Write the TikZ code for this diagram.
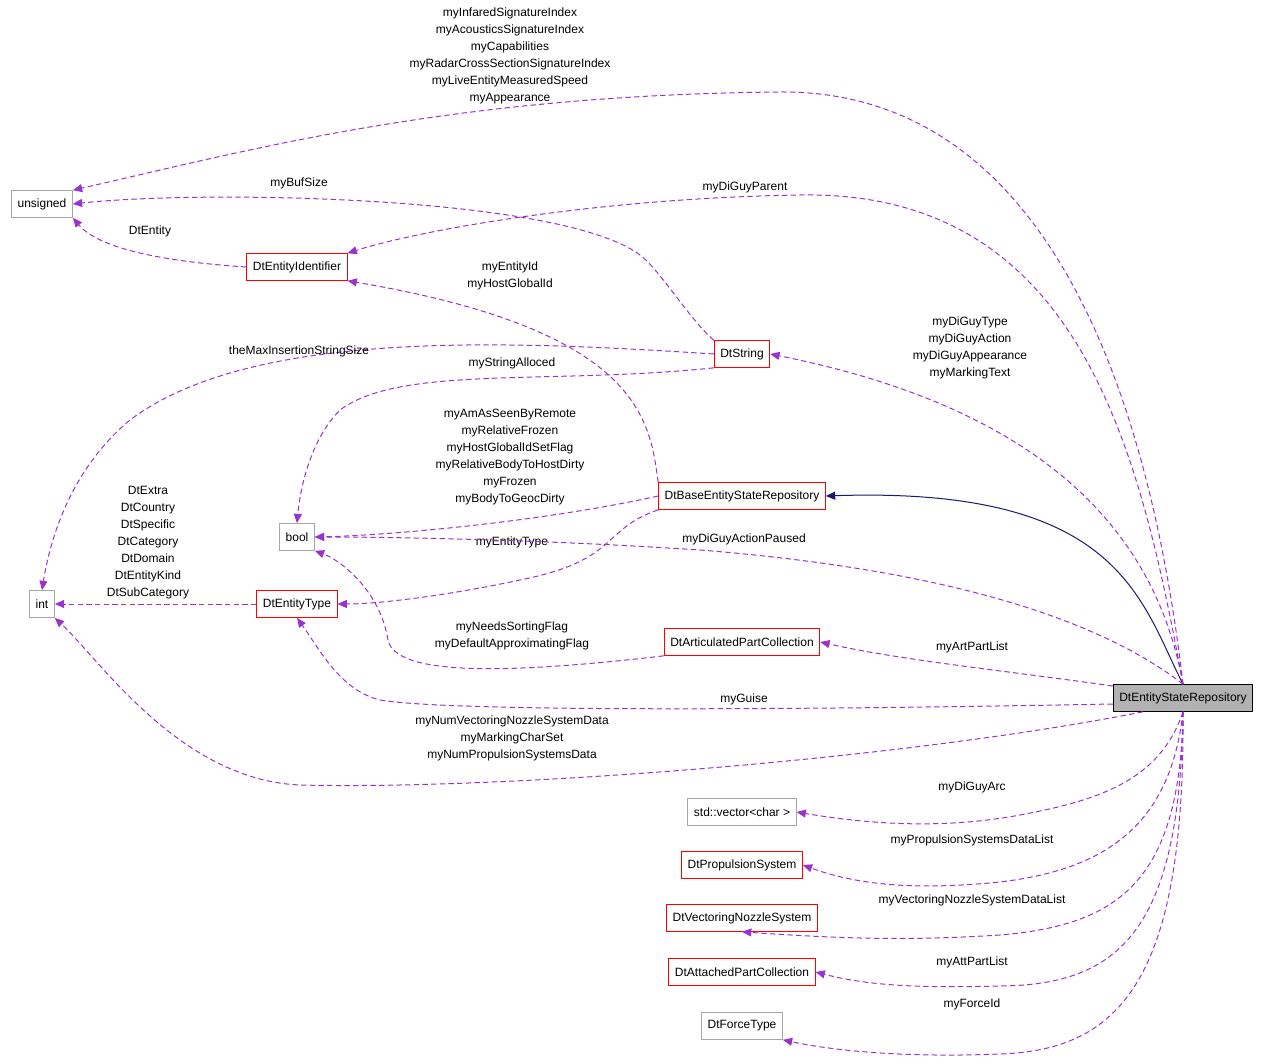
\documentclass[tikz,border=0pt]{standalone}
\usepackage{fontspec}
\setmainfont{Liberation Sans}
\usetikzlibrary{arrows.meta}
\tikzset{every picture/.style={line width=0.75pt}}
\definecolor{edgepurple}{RGB}{154,50,205}
\definecolor{edgenavy}{RGB}{25,25,112}
\tikzset{
  cls/.style={draw=red, rectangle, inner xsep=4.5pt, minimum height=20pt, font=\fontsize{9}{11}\selectfont},
  ext/.style={cls, draw=black!35},
  main/.style={cls, draw=black, fill=black!30},
  dep/.style={edgepurple, dashed, dash pattern=on 4pt off 2.5pt, -{Triangle[length=7pt,width=6pt]}},
  inh/.style={edgenavy, -{Triangle[length=7pt,width=6pt]}},
  lbl/.style={align=center, inner sep=0.75pt, font=\fontsize{9}{12.75}\selectfont}
}
\begin{document}
\begin{tikzpicture}[x=0.75pt,y=0.75pt,yscale=-1,xscale=1]
\useasboundingbox (0,0) rectangle (1272,1064);
% classes
\node[ext] (unsigned) at (42,204) {unsigned};
\node[cls] (ident) at (297,267) {DtEntityIdentifier};
\node[cls] (dtstring) at (742,354) {DtString};
\node[ext] (bool) at (297,537) {bool};
\node[cls] (base) at (742,496) {DtBaseEntityStateRepository};
\node[ext] (int) at (42,604) {int};
\node[cls] (etype) at (297,604) {DtEntityType};
\node[cls] (artic) at (742,642) {DtArticulatedPartCollection};
\node[main] (repo) at (1183,698) {DtEntityStateRepository};
\node[ext] (vec) at (742,812) {std::vector\char`< char \char`>};
\node[cls] (prop) at (742,865) {DtPropulsionSystem};
\node[cls] (nozzle) at (742,918) {DtVectoringNozzleSystem};
\node[cls] (attach) at (742,972) {DtAttachedPartCollection};
\node[ext] (force) at (742,1026) {DtForceType};
% inheritance
\draw[inh] (repo.north) .. controls (1140,600) and (1120,486) .. (base.east);
% members
\draw[dep] (repo.north) .. controls (1150,400) and (1050,90) .. (780,92) .. controls (450,95) and (250,150) .. (unsigned.north east);
\node[lbl] (l1) at (510,56) {myInfaredSignatureIndex\\myAcousticsSignatureIndex\\myCapabilities\\myRadarCrossSectionSignatureIndex\\myLiveEntityMeasuredSpeed\\myAppearance};
\draw[dep] (repo.north) .. controls (1140,450) and (1080,190) .. (800,195) .. controls (600,198) and (420,230) .. (ident.north east);
\node[lbl] (l2) at (745,187) {myDiGuyParent};
\draw[dep] (dtstring.north west) .. controls (690,320) and (660,270) .. (640,255) .. controls (560,195) and (200,190) .. (unsigned.east);
\node[lbl] (l3) at (299,183) {myBufSize};
\draw[dep] (ident.west) .. controls (170,262) and (100,250) .. (unsigned.south east);
\node[lbl] (l4) at (150,231) {DtEntity};
\draw[dep] (base.north west) .. controls (650,420) and (640,330) .. (ident.south east);
\node[lbl] (l5) at (510,276) {myEntityId\\myHostGlobalId};
\draw[dep] (dtstring.west) .. controls (500,340) and (250,330) .. (130,420) .. controls (70,470) and (50,540) .. (int.north);
\node[lbl] (l6) at (299,351) {theMaxInsertionStringSize};
\draw[dep] (dtstring.south west) .. controls (550,385) and (400,365) .. (340,410) .. controls (310,440) and (300,490) .. (bool.north);
\node[lbl] (l7) at (512,363) {myStringAlloced};
\draw[dep] (repo.north) .. controls (1150,500) and (1000,400) .. (dtstring.east);
\node[lbl] (l8) at (970,348) {myDiGuyType\\myDiGuyAction\\myDiGuyAppearance\\myMarkingText};
\draw[dep] (base.west) .. controls (550,520) and (400,535) .. (bool.east);
\node[lbl] (l9) at (510,457) {myAmAsSeenByRemote\\myRelativeFrozen\\myHostGlobalIdSetFlag\\myRelativeBodyToHostDirty\\myFrozen\\myBodyToGeocDirty};
\draw[dep] (base.south west) .. controls (600,530) and (620,560) .. (520,580) .. controls (450,595) and (380,604) .. (etype.east);
\node[lbl] (l10) at (512,542) {myEntityType};
\draw[dep] (repo.north) .. controls (1100,620) and (950,570) .. (700,550) .. controls (550,540) and (400,537) .. (bool.east);
\node[lbl] (l11) at (744,539) {myDiGuyActionPaused};
\draw[dep] (etype.west) -- (int.east);
\node[lbl] (l12) at (148,543) {DtExtra\\DtCountry\\DtSpecific\\DtCategory\\DtDomain\\DtEntityKind\\DtSubCategory};
\draw[dep] (artic.south west) .. controls (500,675) and (395,675) .. (388,640) .. controls (380,590) and (340,560) .. (bool.south east);
\node[lbl] (l13) at (512,636) {myNeedsSortingFlag\\myDefaultApproximatingFlag};
\draw[dep] (repo.west) ++(0,-12) .. controls (1000,670) and (900,660) .. (artic.east);
\node[lbl] (l14) at (972,647) {myArtPartList};
\draw[dep] (repo.west) ++(0,6) .. controls (800,710) and (450,712) .. (380,700) .. controls (340,690) and (320,650) .. (etype.south);
\node[lbl] (l15) at (744,699) {myGuise};
\draw[dep] (repo.south west) ++(30,0) .. controls (900,760) and (500,790) .. (300,785) .. controls (180,780) and (100,660) .. (int.south east);
\node[lbl] (l16) at (512,738) {myNumVectoringNozzleSystemData\\myMarkingCharSet\\myNumPropulsionSystemsData};
\draw[dep] (repo.south) .. controls (1160,780) and (1100,800) .. (1020,815) .. controls (950,828) and (880,826) .. (vec.east);
\node[lbl] (l17) at (972,787) {myDiGuyArc};
\draw[dep] (repo.south) .. controls (1170,830) and (1100,870) .. (1000,882) .. controls (920,890) and (860,886) .. (prop.east);
\node[lbl] (l18) at (972,840) {myPropulsionSystemsDataList};
\draw[dep] (repo.south) .. controls (1180,880) and (1120,925) .. (1000,935) .. controls (920,940) and (860,940) .. (nozzle.south);
\node[lbl] (l19) at (972,900) {myVectoringNozzleSystemDataList};
\draw[dep] (repo.south) .. controls (1180,930) and (1120,985) .. (1000,986) .. controls (920,988) and (870,986) .. (attach.east);
\node[lbl] (l20) at (972,962) {myAttPartList};
\draw[dep] (repo.south) .. controls (1185,980) and (1120,1050) .. (1000,1054) .. controls (900,1058) and (830,1050) .. (force.south east);
\node[lbl] (l21) at (972,1004) {myForceId};
\end{tikzpicture}
\end{document}
